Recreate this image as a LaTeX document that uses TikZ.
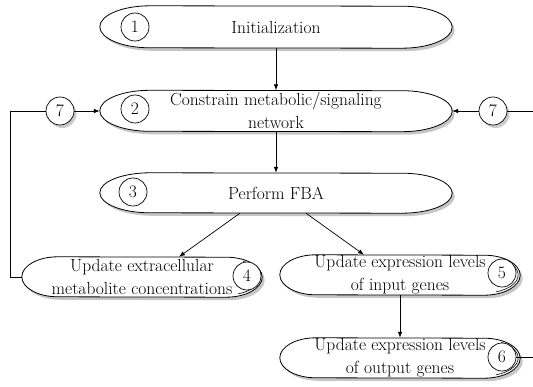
\documentclass[tikz,border=0pt]{standalone}
\usetikzlibrary{arrows.meta,shadows,backgrounds}

\tikzset{
  box/.style={inner sep=0pt, align=center, minimum height=40pt},
  num/.style={circle, draw, fill=white, line width=0.7pt, minimum size=28pt, inner sep=0pt},
  shade7/.style={drop shadow={shadow xshift=2.5pt, shadow yshift=-3pt, opacity=0.4}},
  pill/.style={draw, fill=white, line width=0.8pt,
    drop shadow={shadow xshift=2.5pt, shadow yshift=-3pt, opacity=0.45}},
  flow/.style={-{Latex[length=6pt,width=4.5pt]}, line width=0.7pt},
}

% outline with elliptic ends: node, end radius, half height
\newcommand{\pillshape}[3]{%
  \draw[pill] ([xshift=#2]#1.north west)
    arc[start angle=90, end angle=270, x radius=#2, y radius=#3]
    -- ([xshift=-#2]#1.south east)
    arc[start angle=-90, end angle=90, x radius=#2, y radius=#3] -- cycle;}

\begin{document}
\begin{tikzpicture}[x=1pt, y=1pt, font=\fontsize{17.5}{23}\selectfont]
  \useasboundingbox (0,0) rectangle (533,386);

  % main column
  \node[box, minimum width=352pt, minimum height=42pt] (init) at (276,359) {Initialization};
  \node[box, minimum width=352pt, minimum height=41pt] (cons) at (276,275) {Constrain metabolic/signaling\\network};
  \node[box, minimum width=352pt] (fba) at (276,193) {Perform FBA};
  \node[box, minimum width=240pt] (extra) at (142,109) {Update extracellular\\metabolite concentrations};
  \node[box, minimum width=240pt] (ingenes) at (400,111) {Update expression levels\\of input genes};
  \node[box, minimum width=240pt] (outgenes) at (400,28) {Update expression levels\\of output genes};

  \begin{pgfonlayer}{background}
    \pillshape{init}{50pt}{21pt}
    \pillshape{cons}{50pt}{20.5pt}
    \pillshape{fba}{50pt}{20pt}
    \pillshape{extra}{36pt}{20pt}
    \pillshape{ingenes}{36pt}{20pt}
    \pillshape{outgenes}{36pt}{20pt}
  \end{pgfonlayer}
  % second line on the right ends
  \foreach \n in {extra,ingenes,outgenes}
    \draw[line width=0.6pt] ([xshift=-36pt]\n.east) ++(60:34pt and 18pt)
      arc[start angle=60, end angle=-70, x radius=34pt, y radius=18pt];

  % step numbers
  \node[num] (c1) at (135,359) {1};
  \node[num] (c2) at (135,277) {2};
  \node[num] (c3) at (133,194) {3};
  \node[num] (c4) at (247,110) {4};
  \node[num] (c5) at (502,113) {5};
  \node[num] (c6) at (502,29) {6};
  \node[num, shade7] (c7l) at (60,275) {7};
  \node[num, shade7] (c7r) at (493,275) {7};

  \coordinate (lturn) at (10,275);
  \coordinate (redge) at (533,275);
  \coordinate (redge2) at (533,29);

  \draw[flow] (init) -- (cons);
  \draw[flow] (cons) -- (fba);
  \draw[flow] ([xshift=-36pt]fba.south) -- ([xshift=37pt]extra.north);
  \draw[flow] ([xshift=30pt]fba.south) -- ([xshift=-36pt]ingenes.north);
  \draw[flow] (ingenes) -- (outgenes);

  % feedback
  \draw[line width=0.7pt] (extra.west) -| (lturn) -- (c7l);
  \draw[flow] (c7l) -- (cons.west);
  \draw[flow] (c7r) -- (cons.east);
  \draw[line width=0.7pt] (c7r) -- (redge);
  \draw[line width=0.7pt] (c6) -- (redge2);
\end{tikzpicture}
\end{document}
